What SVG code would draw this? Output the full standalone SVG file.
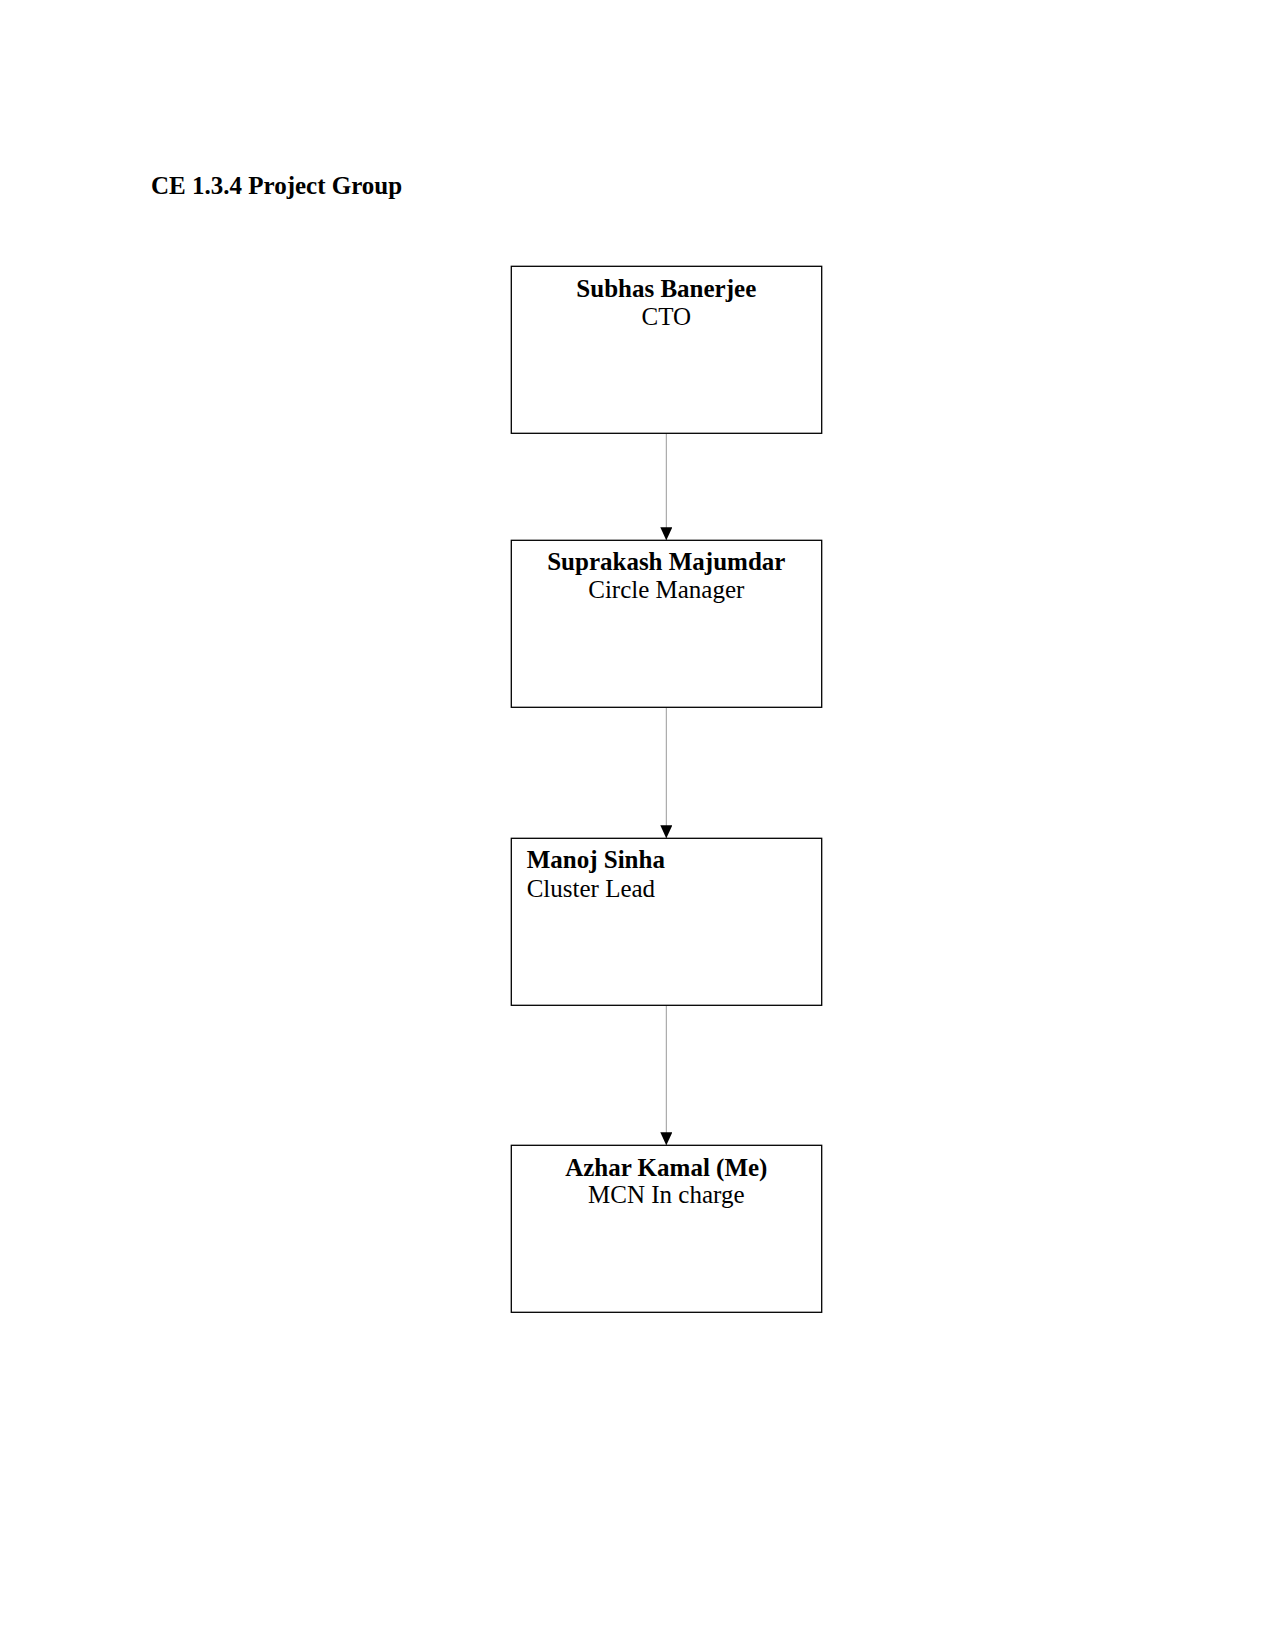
<svg xmlns="http://www.w3.org/2000/svg" width="1275" height="1650" viewBox="0 0 1275 1650">
<style>
  text { font-family: "Liberation Serif", "Times New Roman", serif; font-size: 25px; fill: #000; }
  .b { font-weight: bold; }
  .box { fill: #fff; stroke: #000; stroke-width: 1.3; }
  .conn { stroke: #999; stroke-width: 1; fill: none; }
</style>
<defs>
  <marker id="arr" viewBox="0 0 13 12" refX="13" refY="6" markerWidth="13" markerHeight="12" markerUnits="userSpaceOnUse" orient="auto">
    <path d="M0,0 L13,6 L0,12 Z" fill="#000"/>
  </marker>
</defs>
<rect width="1275" height="1650" fill="#fff"/>
<text class="b" x="151" y="194">CE 1.3.4 Project Group</text>
<g id="connectors">
  <line class="conn" x1="666.3" y1="433.3" x2="666.3" y2="540.3" marker-end="url(#arr)"/>
  <line class="conn" x1="666.3" y1="707.3" x2="666.3" y2="838.3" marker-end="url(#arr)"/>
  <line class="conn" x1="666.3" y1="1005.3" x2="666.3" y2="1145.3" marker-end="url(#arr)"/>
</g>
<g id="node1">
  <rect class="box" x="511.3" y="266.3" width="310.4" height="167"/>
  <text class="b" x="666.3" y="296.7" text-anchor="middle">Subhas Banerjee</text>
  <text x="666.3" y="325" text-anchor="middle">CTO</text>
</g>
<g id="node2">
  <rect class="box" x="511.3" y="540.3" width="310.4" height="167"/>
  <text class="b" x="666.3" y="569.5" text-anchor="middle">Suprakash Majumdar</text>
  <text x="666.3" y="598.3" text-anchor="middle">Circle Manager</text>
</g>
<g id="node3">
  <rect class="box" x="511.3" y="838.3" width="310.4" height="167"/>
  <text class="b" x="526.7" y="868.3">Manoj Sinha</text>
  <text x="526.7" y="896.7">Cluster Lead</text>
</g>
<g id="node4">
  <rect class="box" x="511.3" y="1145.3" width="310.4" height="167"/>
  <text class="b" x="666.3" y="1175.7" text-anchor="middle">Azhar Kamal (Me)</text>
  <text x="666.3" y="1203.3" text-anchor="middle">MCN In charge</text>
</g>
</svg>
